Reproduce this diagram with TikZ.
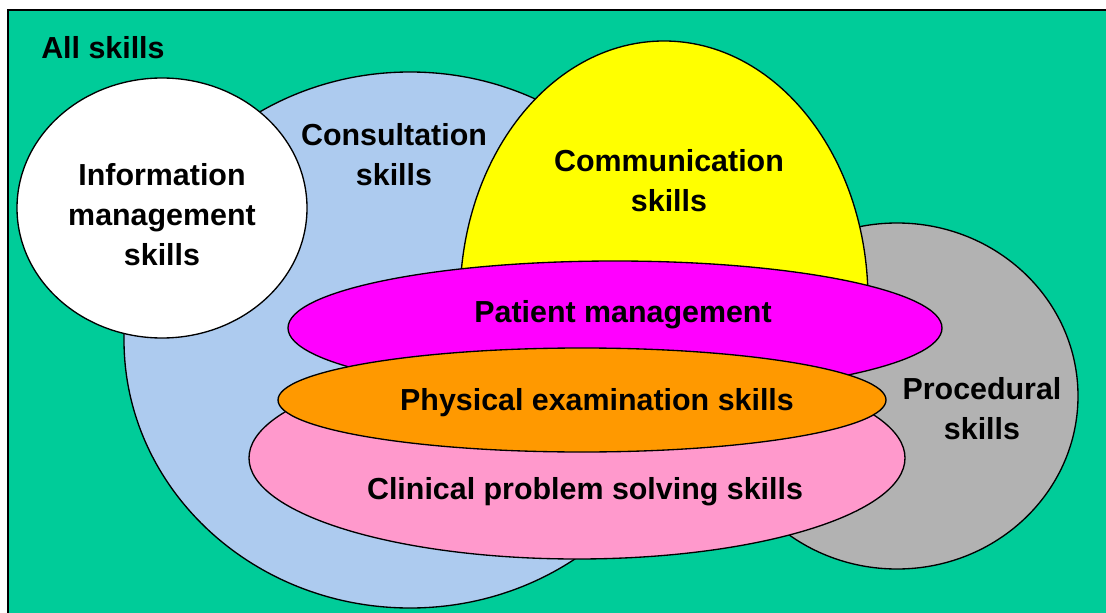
\documentclass[tikz,border=0pt]{standalone}
\usepackage{fontspec}
\setmainfont{Liberation Sans}
\usetikzlibrary{positioning}
\definecolor{allgreen}{RGB}{0,204,153}
\definecolor{consultblue}{RGB}{173,203,239}
\definecolor{procgray}{RGB}{178,178,178}
\definecolor{commyellow}{RGB}{255,255,0}
\definecolor{clinpink}{RGB}{255,153,204}
\definecolor{patmagenta}{RGB}{255,0,255}
\definecolor{physorange}{RGB}{255,153,0}

\begin{document}
\begin{tikzpicture}[x=0.75pt,y=-0.75pt,
 skillarea/.style={draw=black, line width=1pt},
 skilltext/.style={font=\fontsize{22.8}{30}\selectfont\bfseries, align=center}]
\useasboundingbox (0,0) rectangle (1106,613);
\clip (0,0) rectangle (1106,613);

\filldraw[fill=allgreen, line width=1.5pt] (8,10) rectangle (1140,650);

\filldraw[skillarea, fill=consultblue] (410,340) ellipse [x radius=286, y radius=268];
\filldraw[skillarea, fill=white] (162,208) ellipse [x radius=145, y radius=130];
\filldraw[skillarea, fill=procgray] (897,396) ellipse [x radius=181, y radius=173];
% only the upper half of the communication area shows
\filldraw[skillarea, fill=commyellow] (460,300) arc [start angle=180, end angle=360, x radius=204, y radius=259] -- cycle;
\filldraw[skillarea, fill=clinpink] (577,458) ellipse [x radius=328, y radius=101];
\filldraw[skillarea, fill=patmagenta] (615,328) ellipse [x radius=327, y radius=67];
\filldraw[skillarea, fill=physorange] (582,400) ellipse [x radius=304, y radius=52];

\node[skilltext, anchor=base west, inner sep=0pt] (allskills) at (41,59) {All skills};
\node[skilltext] (infomgmt) at (162,215) {Information\\management\\skills};
\node[skilltext] (consult) at (394,155) {Consultation\\skills};
\node[skilltext] (comm) at (669,181) {Communication\\skills};
\node[skilltext] (patmgmt) at (623,315) {Patient management};
\node[skilltext] (physexam) at (597,403) {Physical examination skills};
\node[skilltext] (clinical) at (585,492) {Clinical problem solving skills};
\node[skilltext] (procedural) at (982,409) {Procedural\\skills};
\end{tikzpicture}
\end{document}
